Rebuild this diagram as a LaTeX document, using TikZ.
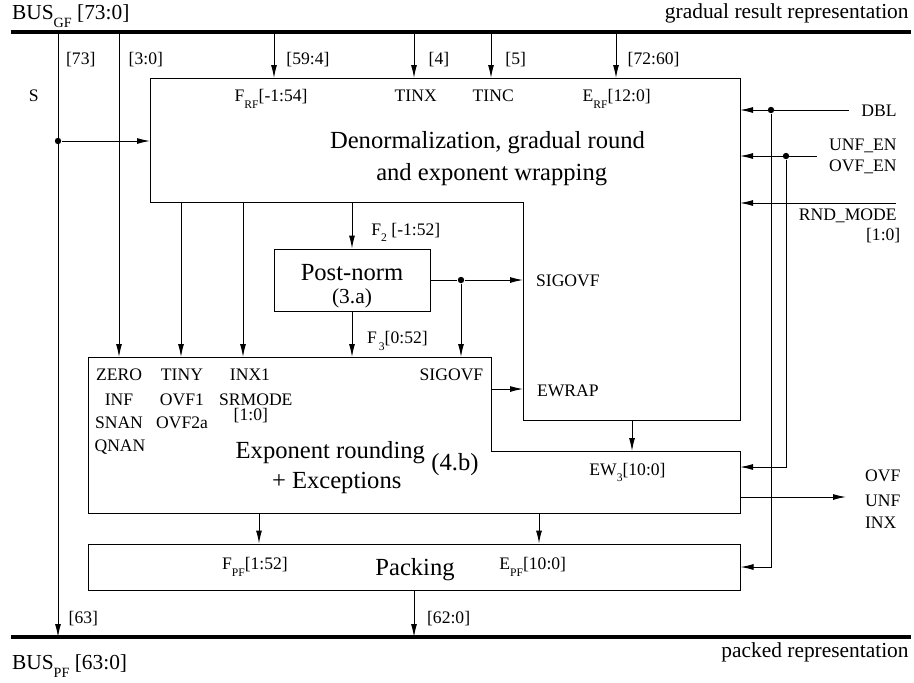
\documentclass[tikz,border=0pt]{standalone}
\usepackage{fontspec}
\setmainfont{Liberation Serif}
\usepackage{graphicx}
\usetikzlibrary{arrows.meta}

\newcommand{\lowsub}[1]{\raisebox{-0.38em}{\scalebox{0.66}{#1}}}

\tikzset{
  wire/.style={line width=0.5pt},
  sig/.style={wire, -{Latex[length=6.5pt,width=3pt]}},
  bus/.style={line width=2pt},
  blk/.style={line width=0.5pt},
  dot/.style={circle, fill, inner sep=0pt, minimum size=3.2pt},
  lab/.style={inner sep=0pt, font=\fontsize{8.8}{10}\selectfont},
  buslab/.style={inner sep=0pt, font=\fontsize{10.7}{12}\selectfont},
  title/.style={inner sep=0pt, font=\fontsize{12.3}{15}\selectfont},
}

\begin{document}
\begin{tikzpicture}[x=0.5pt, y=-0.5pt]
  \useasboundingbox (0,0) rectangle (914,682);

  % buses
  \coordinate (gfL) at (11,32);
  \coordinate (gfR) at (911,32);
  \coordinate (pfL) at (11,637);
  \coordinate (pfR) at (911,637);
  \draw [bus] (gfL) -- (gfR);
  \draw [bus] (pfL) -- (pfR);
  \node [buslab, anchor=base west] (gfname) at (11.7,19.3) {BUS\lowsub{GF} [73:0]};
  \node [buslab, anchor=base east] (gfdesc) at (909,18.5) {gradual result representation};
  \node [buslab, anchor=base west] (pfname) at (11.7,669) {BUS\lowsub{PF} [63:0]};
  \node [buslab, anchor=base east] (pfdesc) at (909,657) {packed representation};

  % columns
  \foreach \n/\x in {cS/58, c30/119, cTiny/181, cInx/243, c594/274, cF/352,
                     c4/414, c5/491, c7260/616, cSig/461, cEw/632, cZ/259,
                     cE/539, cDbl/771, cEn/786}
    \coordinate (\n) at (\x,0);

  % denormalization block
  \draw [blk] (150,78) coordinate (dnNW) -- (740,78) coordinate (dnNE)
    -- (740,420) coordinate (dnSE) -- (523,420) coordinate (dnIn)
    -- (523,202) coordinate (dnStep) -- (150,202) coordinate (dnSW) -- cycle;
  \node [title, anchor=base] (dnt1) at (487.5,148.3) {Denormalization, gradual round};
  \node [title, anchor=base] (dnt2) at (491.7,180) {and exponent wrapping};
  \node [lab, anchor=base west] (frf) at (234.3,101.7) {F\lowsub{RF}[-1:54]};
  \node [lab, anchor=base west] (tinx) at (394.3,101.7) {TINX};
  \node [lab, anchor=base west] (tinc) at (472.3,101.7) {TINC};
  \node [lab, anchor=base west] (erf) at (582.3,101.7) {E\lowsub{RF}[12:0]};
  \node [lab, anchor=base west] (sigo1) at (535.7,286.7) {SIGOVF};
  \node [lab, anchor=base west] (ewrap) at (536.7,396) {EWRAP};

  % exponent rounding block
  \draw [blk] (88,357) coordinate (exNW) -- (491,357) coordinate (exStep)
    -- (491,451) coordinate (exIn) -- (740,451) coordinate (exNE)
    -- (740,513) coordinate (exSE) -- (88,513) coordinate (exSW) -- cycle;
  \node [title, anchor=base] (ext1) at (330.3,458.3) {Exponent rounding};
  \node [title, anchor=base] (ext2) at (336.7,488.3) {+ Exceptions};
  \node [title, anchor=base] (ext3) at (455,470) {(4.b)};
  \foreach \t/\x/\y [count=\i] in {ZERO/119/380.7, INF/119/405, SNAN/119/428.3,
      QNAN/120/451.7, TINY/182/380.7, OVF1/182/405, OVF2a/182/428.3,
      INX1/250/380.7, SRMODE/255.8/405, {[1:0]}/250.8/420}
    \node [lab, anchor=base] (exl\i) at (\x,\y) {\t};
  \node [lab, anchor=base west] (sigo2) at (419.3,380.7) {SIGOVF};
  \node [lab, anchor=base west] (ew3) at (589,475) {EW\lowsub{3}[10:0]};

  % post-norm and packing
  \node [draw, blk, minimum width=78pt, minimum height=31pt, inner sep=0pt] (pn) at (352,280) {};
  \node [title, anchor=base] (pnt1) at (352,280) {Post-norm};
  \node [buslab, anchor=base] (pnt2) at (352,303.5) {(3.a)};
  \node [draw, blk, minimum width=326pt, minimum height=23pt, inner sep=0pt] (pk) at (414,567) {};
  \node [title, anchor=base west] (pkt) at (375,575) {Packing};
  \node [lab, anchor=base west] (fpf) at (221.7,569.3) {F\lowsub{PF}[1:52]};
  \node [lab, anchor=base west] (epf) at (499,569.3) {E\lowsub{PF}[10:0]};

  % taps from the GF bus
  \draw [sig] (cS |- gfL) -- (cS |- pfL);
  \draw [sig] (c30 |- gfL) -- (c30 |- exNW);
  \foreach \c in {c594, c4, c5, c7260}
    \draw [sig] (\c |- gfL) -- (\c |- dnNW);
  \foreach \t/\x [count=\i] in {{[73]}/65.7, {[3:0]}/128.3, {[59:4]}/286,
      {[4]}/428.3, {[5]}/505, {[72:60]}/627.3}
    \node [lab, anchor=base west] (tap\i) at (\x,64) {\t};
  \node [lab, anchor=base] (sname) at (33.7,101.7) {S};
  \node [dot] (sdot) at (58,141) {};
  \draw [sig] (sdot) -- (sdot -| dnNW);

  % inner connections
  \foreach \c in {cTiny, cInx}
    \draw [sig] (\c |- dnSW) -- (\c |- exNW);
  \draw [sig] (cF |- dnSW) -- (pn.north);
  \node [lab, anchor=base west] (f2) at (371,235) {F\lowsub{2} [-1:52]};
  \draw [sig] (pn.south) -- (pn.south |- exNW);
  \node [lab, anchor=base west] (f3) at (366.7,343.3) {F\hspace{1pt}\lowsub{3}[0:52]};
  \node [dot] (sigdot) at (pn.east -| cSig) {};
  \draw [wire] (pn.east) -- (sigdot);
  \draw [sig] (sigdot) -- (sigdot -| dnStep);
  \draw [sig] (sigdot) -- (sigdot |- exNW);
  \coordinate (ewOut) at (491,389);
  \draw [sig] (ewOut) -- (ewOut -| dnStep);
  \draw [sig] (cEw |- dnSE) -- (cEw |- exNE);
  \foreach \c in {cZ, cE}
    \draw [sig] (\c |- exSW) -- (\c |- pk.north);
  \draw [sig] (pk.south) -- (pk.south |- pfL);
  \node [lab, anchor=base west] (l63) at (68.3,623.3) {[63]};
  \node [lab, anchor=base west] (l620) at (426.7,623.3) {[62:0]};

  % control inputs
  \coordinate (dblIn) at (849,110);
  \node [dot] (dbldot) at (dblIn -| cDbl) {};
  \draw [sig] (dblIn) -- (dblIn -| dnNE);
  \draw [sig] (dbldot) |- (pk.east);
  \coordinate (enIn) at (817,156);
  \node [dot] (endot) at (enIn -| cEn) {};
  \draw [sig] (enIn) -- (enIn -| dnNE);
  \coordinate (exEn) at (740,467);
  \draw [sig] (endot) |- (exEn);
  \coordinate (rndIn) at (896,203);
  \draw [sig] (rndIn) -- (rndIn -| dnNE);
  \node [lab, anchor=base east] (dbl) at (897,116.7) {DBL};
  \node [lab, anchor=base east] (unfen) at (897,150) {UNF\_EN};
  \node [lab, anchor=base east] (ovfen) at (897,171.7) {OVF\_EN};
  \node [lab, anchor=base east] (rnd) at (897,220.7) {RND\_MODE};
  \node [lab, anchor=base east] (rnd10) at (900.7,240.7) {[1:0]};

  % flag outputs
  \coordinate (exOut) at (740,497);
  \coordinate (flags) at (846,497);
  \draw [sig] (exOut) -- (flags);
  \node [lab, anchor=base west] (ovf) at (864.7,481.7) {OVF};
  \node [lab, anchor=base west] (unf) at (864.7,506.7) {UNF};
  \node [lab, anchor=base west] (inx) at (864.7,528.3) {INX};
\end{tikzpicture}
\end{document}
